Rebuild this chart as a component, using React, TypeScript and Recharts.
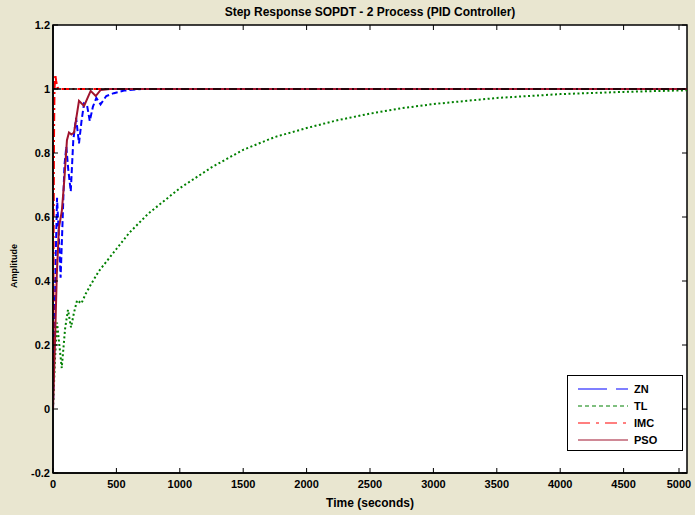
import React from "react";
import { LineChart, Line, XAxis, YAxis, ReferenceLine } from "recharts";

// time (s) / amplitude pairs
const znTime = [0, 10, 20, 32, 45, 60, 75, 90, 105, 120, 140, 160, 182, 205, 225, 245, 268, 290, 315, 342, 375, 420, 480, 560, 700, 1000, 5000];
const znAmp = [0, 0.2, 0.45, 0.66, 0.55, 0.41, 0.58, 0.76, 0.82, 0.75, 0.68, 0.84, 0.91, 0.83, 0.9, 0.955, 0.95, 0.9, 0.945, 0.972, 0.952, 0.978, 0.987, 0.995, 1.0, 1.0, 1.0];

const tlTime = [0, 15, 32, 50, 69, 95, 118, 142, 165, 190, 224, 258, 300, 360, 420, 500, 600, 750, 1000, 1250, 1500, 1750, 2000, 2250, 2500, 2750, 3000, 3500, 4000, 4500, 5000];
const tlAmp = [0, 0.15, 0.27, 0.2, 0.128, 0.25, 0.31, 0.255, 0.3, 0.34, 0.33, 0.36, 0.39, 0.43, 0.46, 0.5, 0.55, 0.61, 0.69, 0.755, 0.81, 0.85, 0.878, 0.903, 0.923, 0.94, 0.953, 0.972, 0.984, 0.991, 0.996];

const imcTime = [0, 4, 8, 12, 18, 25, 35, 50, 5000];
const imcAmp = [0, 0.45, 0.85, 1.0, 1.045, 1.025, 1.005, 1.0, 1.0];

const psoTime = [0, 15, 30, 47, 70, 90, 110, 126, 145, 166, 205, 245, 297, 337, 376, 450, 600, 5000];
const psoAmp = [0, 0.2, 0.42, 0.567, 0.62, 0.72, 0.84, 0.864, 0.858, 0.864, 0.963, 0.947, 0.994, 0.978, 0.997, 1.0, 1.0, 1.0];

const xTicks = [0, 500, 1000, 1500, 2000, 2500, 3000, 3500, 4000, 4500, 5000];
const yTicks = [-0.2, 0, 0.2, 0.4, 0.6, 0.8, 1, 1.2];

const toPoints = (t: number[], a: number[]) => t.map((time, i) => ({ time, amp: a[i] }));

const FONT = "'Liberation Sans', Arial, sans-serif";

const series = [
  { name: "ZN", data: toPoints(znTime, znAmp), color: "#0000ff", dash: "6 3", legendDash: "29 9 10 0" },
  { name: "TL", data: toPoints(tlTime, tlAmp), color: "#008000", dash: "2 2.5", legendDash: "4 3" },
  { name: "IMC", data: toPoints(imcTime, imcAmp), color: "#ff0000", dash: "8 3 2 3", legendDash: "12 6 3 6" },
  { name: "PSO", data: toPoints(psoTime, psoAmp), color: "#a0142e", dash: undefined as string | undefined, legendDash: undefined as string | undefined },
];

// plot box edges (px) – used only for the inward tick marks
const PLOT_TOP = 25;
const PLOT_BOTTOM = 473;
const PLOT_LEFT = 53;
const PLOT_RIGHT = 687;

const BottomTick = (props: any) => {
  const { x, payload } = props;
  return (
    <g>
      <line x1={x} x2={x} y1={PLOT_BOTTOM} y2={PLOT_BOTTOM - 5} stroke="#000" />
      <line x1={x} x2={x} y1={PLOT_TOP} y2={PLOT_TOP + 5} stroke="#000" />
      <text x={x} y={PLOT_BOTTOM + 15} textAnchor="middle" fontSize={11} fontWeight="bold" fontFamily={FONT} fill="#000">
        {payload.value}
      </text>
    </g>
  );
};

const LeftTick = (props: any) => {
  const { y, payload } = props;
  return (
    <g>
      <line x1={PLOT_LEFT} x2={PLOT_LEFT + 5} y1={y} y2={y} stroke="#000" />
      <line x1={PLOT_RIGHT} x2={PLOT_RIGHT - 5} y1={y} y2={y} stroke="#000" />
      <text x={PLOT_LEFT - 3} y={y + 4} textAnchor="end" fontSize={11} fontWeight="bold" fontFamily={FONT} fill="#000">
        {payload.value}
      </text>
    </g>
  );
};

function LegendBox() {
  return (
    <div
      style={{
        position: "absolute",
        left: 567,
        top: 375,
        width: 116,
        height: 76,
        background: "#fff",
        border: "1px solid #000",
        boxSizing: "border-box",
        padding: "4px 0 0 0",
      }}
    >
      {series.map((s) => (
        <div key={s.name} style={{ display: "flex", alignItems: "center", height: 17 }}>
          <svg width={64} height={10} style={{ marginLeft: 10 }}>
            <line x1={0} x2={50} y1={5} y2={5} stroke={s.color} strokeWidth={1.2} strokeDasharray={s.legendDash} />
          </svg>
          <span style={{ fontFamily: FONT, fontWeight: "bold", fontSize: 11, marginLeft: -8 }}>{s.name}</span>
        </div>
      ))}
    </div>
  );
}

export default function App() {
  return (
    <div style={{ position: "absolute", left: 0, top: 0, width: 695, height: 515, background: "#e9e6d0", overflow: "hidden" }}>
      <LineChart width={695} height={515} margin={{ top: 25, right: 8, bottom: 12, left: 13 }}>
        <rect x={PLOT_LEFT} y={PLOT_TOP} width={PLOT_RIGHT - PLOT_LEFT} height={PLOT_BOTTOM - PLOT_TOP} fill="#fff" stroke="#000" strokeWidth={1.5} />
        <XAxis
          dataKey="time"
          type="number"
          domain={[0, 5000]}
          ticks={xTicks}
          allowDataOverflow
          height={30}
          tickSize={0}
          tickLine={false}
          tick={<BottomTick />}
          axisLine={{ stroke: "#000", strokeWidth: 1.5 }}
        />
        <YAxis
          type="number"
          domain={[-0.2, 1.2]}
          ticks={yTicks}
          allowDataOverflow
          width={40}
          tickSize={0}
          tickLine={false}
          tick={<LeftTick />}
          axisLine={{ stroke: "#000", strokeWidth: 1.5 }}
        />
        {series.map((s) => (
          <Line
            key={s.name}
            data={s.data}
            dataKey="amp"
            name={s.name}
            type="linear"
            stroke={s.color}
            strokeWidth={2}
            strokeDasharray={s.dash}
            dot={false}
            isAnimationActive={false}
          />
        ))}
        <ReferenceLine y={1} stroke="#000" strokeWidth={1.5} strokeDasharray="8 3 2 3" />
        <text x={370} y={16} textAnchor="middle" fontSize={12} fontWeight="bold" fontFamily={FONT} fill="#000">
          Step Response SOPDT - 2 Process (PID Controller)
        </text>
        <text x={370} y={507} textAnchor="middle" fontSize={12} fontWeight="bold" fontFamily={FONT} fill="#000">
          Time (seconds)
        </text>
        <text x={17} y={266} transform="rotate(-90 17 266)" textAnchor="middle" fontSize={9} fontWeight="bold" fontFamily={FONT} fill="#000">
          Amplitude
        </text>
      </LineChart>
      <LegendBox />
    </div>
  );
}
